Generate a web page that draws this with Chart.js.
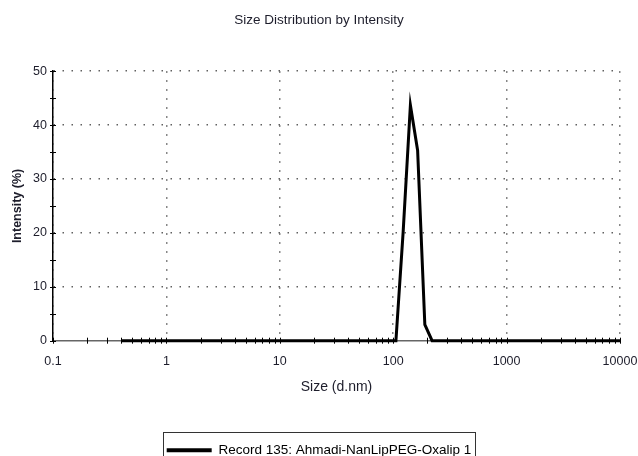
<!DOCTYPE html>
<html>
<head>
<meta charset="utf-8">
<script src="https://cdn.jsdelivr.net/npm/chart.js@4/dist/chart.umd.min.js"></script>
<style>
  html, body { margin: 0; padding: 0; background: #fff; }
  #wrap { width: 638px; height: 456px; }
</style>
</head>
<body>
<div id="wrap"><canvas id="dls-chart"></canvas></div>
<script>
// Size bins (d.nm) and intensity (%)
var sizes     = [0.4, 105.7, 122.4, 141.8, 164.2, 190.1, 220.2, 10000];
var intensity = [0,   0,     20.2,  43.7,  35.3,  3.0,   0,     0];

// Axis ticks
var sizeTickLabels = ['0.1', '1', '10', '100', '1000', '10000'];
var intensityTicks = [0, 10, 20, 30, 40, 50];
var seriesLabel = 'Record 135: Ahmadi-NanLipPEG-Oxalip 1';

var textColor = '#1d1d2b';
var gridColor = '#606060';
var fontFamily = '"Liberation Sans", Arial, sans-serif';

// minor ticks 1..9 per decade for the log axis
var sizeTickValues = [];
sizeTickLabels.forEach(function(lbl, i) {
  var base = parseFloat(lbl);
  if (i === sizeTickLabels.length - 1) {
    sizeTickValues.push(base);
    return;
  }
  for (var m = 1; m < 10; m++) {
    sizeTickValues.push(parseFloat((base * m).toPrecision(3)));
  }
});

function isDecade(v) {
  return sizeTickLabels.indexOf(String(v)) !== -1;
}

// tick marks crossing both axes
var crossTicks = {
  id: 'crossTicks',
  afterDraw: function(chart) {
    var ctx = chart.ctx;
    var xs = chart.scales.x, ys = chart.scales.y;
    var area = chart.chartArea;
    ctx.save();
    ctx.strokeStyle = '#000';
    ctx.lineWidth = 1;
    ctx.beginPath();
    sizeTickValues.forEach(function(v) {
      var px = Math.round(xs.getPixelForValue(v)) + 0.5;
      ctx.moveTo(px, area.bottom - 3);
      ctx.lineTo(px, area.bottom + 3);
    });
    for (var v = 0; v <= 50; v += 5) {
      var py = Math.round(ys.getPixelForValue(v)) + 0.5;
      ctx.moveTo(area.left - 3, py);
      ctx.lineTo(area.left + 3, py);
    }
    ctx.stroke();
    ctx.restore();
  }
};

// frame around the legend entry
var legendFrame = {
  id: 'legendFrame',
  afterDraw: function(chart) {
    var boxes = chart.legend && chart.legend.legendHitBoxes;
    if (!boxes || !boxes.length) return;
    var hb = boxes[0];
    var ctx = chart.ctx;
    ctx.save();
    ctx.strokeStyle = '#333';
    ctx.lineWidth = 1;
    ctx.strokeRect(Math.round(hb.left) - 3.5, Math.round(hb.top) - 11.5,
                   Math.round(hb.width) + 7, 60);
    ctx.restore();
  }
};

var chart = new Chart(document.getElementById('dls-chart'), {
  type: 'line',
  data: {
    datasets: [{
      label: seriesLabel,
      data: sizes.map(function(s, i) { return { x: s, y: intensity[i] }; }),
      borderColor: '#000',
      backgroundColor: '#000',
      borderWidth: 3,
      tension: 0,
      pointRadius: 0,
      clip: false
    }]
  },
  options: {
    responsive: true,
    maintainAspectRatio: false,
    animation: false,
    layout: { padding: { left: 0, right: 0, top: 0, bottom: -11 } },
    plugins: {
      title: {
        display: true,
        text: 'Size Distribution by Intensity',
        color: textColor,
        font: { family: fontFamily, size: 13.5, weight: 'normal' },
        padding: { top: 12, bottom: 43 }
      },
      legend: {
        display: true,
        position: 'bottom',
        labels: {
          color: textColor,
          font: { family: fontFamily, size: 13.5 },
          boxWidth: 45,
          boxHeight: 4,
          padding: 0,
          generateLabels: function() {
            return [{
              text: seriesLabel,
              fillStyle: '#000',
              strokeStyle: '#000',
              lineWidth: 0,
              hidden: false,
              datasetIndex: 0
            }];
          }
        }
      },
      tooltip: { enabled: false }
    },
    scales: {
      x: {
        type: 'logarithmic',
        min: 0.1,
        max: 10000,
        afterBuildTicks: function(scale) {
          scale.ticks = sizeTickValues.map(function(v) { return { value: v }; });
        },
        afterFit: function(scale) {
          scale.paddingLeft = 0;
          scale.paddingRight = 18;
        },
        ticks: {
          autoSkip: false,
          maxRotation: 0,
          padding: 13,
          color: textColor,
          font: { family: fontFamily, size: 12.5 },
          callback: function(value) {
            return isDecade(value) ? String(value) : '';
          }
        },
        grid: {
          drawTicks: false,
          lineWidth: 1.5,
          color: function(ctx) {
            return ctx.tick && isDecade(ctx.tick.value) ? gridColor : 'rgba(0,0,0,0)';
          }
        },
        border: { display: true, color: '#666', width: 1.5, dash: [1.5, 7.5] },
        title: {
          display: true,
          text: 'Size (d.nm)',
          color: textColor,
          font: { family: fontFamily, size: 14 },
          padding: { top: -3, bottom: 48 }
        }
      },
      y: {
        type: 'linear',
        min: 0,
        max: 50,
        afterBuildTicks: function(scale) {
          var t = [];
          for (var v = 0; v <= 50; v += 5) t.push({ value: v });
          scale.ticks = t;
        },
        afterFit: function(scale) { scale.width = 53; },
        ticks: {
          padding: 6,
          color: textColor,
          font: { family: fontFamily, size: 12.5 },
          callback: function(value) {
            return intensityTicks.indexOf(value) !== -1 ? String(value) : '';
          }
        },
        grid: {
          drawTicks: false,
          lineWidth: 1.5,
          color: function(ctx) {
            return ctx.tick && ctx.tick.value > 0 && intensityTicks.indexOf(ctx.tick.value) !== -1 ? gridColor : 'rgba(0,0,0,0)';
          }
        },
        border: { display: true, color: '#000', width: 1.5, dash: [1.5, 7.5] },
        title: {
          display: true,
          text: 'Intensity (%)',
          color: textColor,
          font: { family: fontFamily, size: 12.5, weight: 'bold' },
          padding: { top: 10, bottom: 0 }
        }
      }
    }
  },
  plugins: [crossTicks, legendFrame]
});
</script>
</body>
</html>
